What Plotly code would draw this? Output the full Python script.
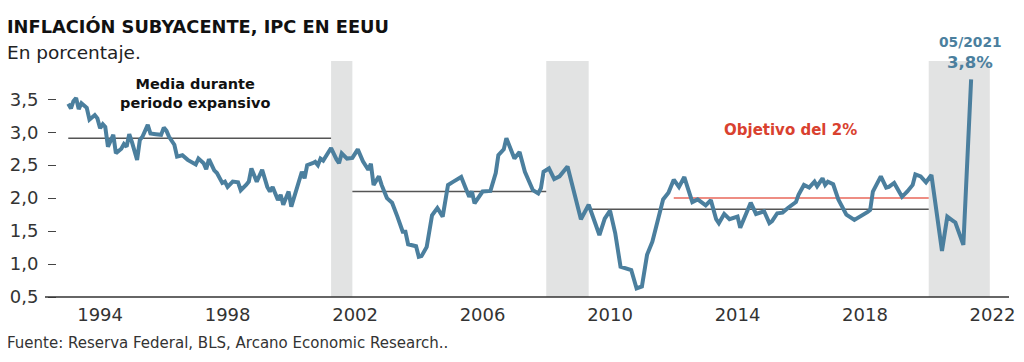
import plotly.graph_objects as go

# ---- data ----
months = ["1993-01","1993-02","1993-03","1993-04","1993-05","1993-06","1993-08","1993-09","1993-11","1993-12",
"1994-01","1994-02","1994-03","1994-04","1994-06","1994-07","1994-09","1994-10","1994-11","1994-12",
"1995-01","1995-03","1995-04","1995-05","1995-07","1995-08","1995-10","1995-12",
"1996-01","1996-02","1996-03","1996-05","1996-06","1996-08","1996-10",
"1997-01","1997-02","1997-04","1997-05","1997-06","1997-08","1997-09","1997-11","1997-12",
"1998-01","1998-03","1998-05","1998-06","1998-08","1998-09","1998-10","1998-12",
"1999-02","1999-04","1999-05","1999-06","1999-08","1999-09","1999-10","1999-11","1999-12",
"2000-01","2000-03","2000-05","2000-06","2000-07","2000-09","2000-10","2000-11","2000-12",
"2001-01","2001-02","2001-04","2001-06","2001-07","2001-08","2001-10","2001-12",
"2002-01","2002-02","2002-04","2002-06","2002-07","2002-08","2002-10","2002-11",
"2003-01","2003-03","2003-05","2003-07","2003-08","2003-09","2003-12",
"2004-01","2004-02","2004-04","2004-06","2004-08","2004-10","2004-12",
"2005-02","2005-05","2005-07","2005-08","2005-09","2005-10",
"2006-01","2006-04","2006-06","2006-07","2006-09","2006-10",
"2007-01","2007-03","2007-05","2007-07","2007-08","2007-10","2007-11","2007-12",
"2008-02","2008-04","2008-06","2008-09","2008-12",
"2009-02","2009-05","2009-07","2009-09","2009-11",
"2010-01","2010-03","2010-05","2010-09","2010-11",
"2011-01","2011-03","2011-05","2011-07","2011-09","2011-11",
"2012-01","2012-03","2012-05","2012-06","2012-08","2012-10",
"2013-01","2013-03","2013-04","2013-05","2013-06","2013-08","2013-10",
"2014-01","2014-02","2014-06","2014-08","2014-11",
"2015-01","2015-02","2015-04","2015-06","2015-08","2015-11","2015-12",
"2016-02","2016-04","2016-06","2016-07","2016-09","2016-10","2016-11",
"2017-01","2017-03","2017-06","2017-09",
"2018-02","2018-03","2018-04","2018-07","2018-09","2018-10","2018-12",
"2019-03","2019-05","2019-07","2019-08","2019-10","2019-12",
"2020-02","2020-06","2020-08","2020-10","2020-11",
"2021-02","2021-05"]

core_cpi = [3.43,3.36,3.47,3.52,3.35,3.44,3.37,3.19,3.26,3.21,
3.06,3.12,3.08,2.78,2.96,2.68,2.75,2.82,2.78,2.97,
2.85,2.58,2.88,2.93,3.11,2.98,2.97,2.96,
3.07,3.02,2.93,2.81,2.63,2.65,2.58,
2.51,2.60,2.53,2.44,2.59,2.42,2.38,2.23,2.25,
2.17,2.25,2.24,2.12,2.20,2.25,2.45,2.25,
2.43,2.17,2.10,2.17,1.97,2.05,1.90,2.00,2.10,
1.87,2.12,2.40,2.30,2.50,2.53,2.55,2.50,2.60,
2.57,2.63,2.76,2.59,2.53,2.68,2.60,2.61,
2.67,2.74,2.56,2.43,2.52,2.20,2.33,2.20,
2.00,1.93,1.72,1.49,1.49,1.30,1.27,
1.11,1.12,1.26,1.74,1.85,1.72,2.20,
2.25,2.32,2.12,2.02,2.10,1.92,
2.10,2.11,2.38,2.65,2.74,2.91,
2.60,2.70,2.40,2.21,2.12,2.07,2.15,2.40,
2.45,2.29,2.33,2.48,2.00,
1.68,1.90,1.69,1.44,1.69,
1.81,1.47,0.96,0.91,0.63,
0.66,1.14,1.34,1.67,1.98,2.08,
2.28,2.17,2.32,2.19,1.94,1.98,
1.89,1.97,1.82,1.68,1.62,1.76,1.68,
1.72,1.55,1.93,1.76,1.80,
1.62,1.65,1.77,1.78,1.85,1.94,2.05,
2.20,2.16,2.25,2.18,2.30,2.20,2.25,
2.21,1.98,1.75,1.67,
1.79,1.82,2.10,2.33,2.16,2.17,2.23,
2.02,2.10,2.20,2.36,2.33,2.24,
2.35,1.20,1.72,1.66,1.63,
1.29,3.80]

# expansion-period averages
mean_start = ["1993-01-01", "2001-12-01", "2009-06-01"]
mean_end = ["2001-04-01", "2008-01-01", "2020-01-01"]
mean_value = [2.91, 2.10, 1.83]

# 2% target
target_start = "2012-01-01"
target_end = "2020-01-01"
target_value = 2.0

# recessions (shaded)
rec_start = ["2001-04-01", "2008-01-01", "2020-01-01"]
rec_end = ["2001-12-01", "2009-05-01", "2021-12-01"]

y_ticks = [0.5, 1.0, 1.5, 2.0, 2.5, 3.0, 3.5]
y_tick_text = ["0,5", "1,0", "1,5", "2,0", "2,5", "3,0", "3,5"]
x_ticks = ["1994-01-01", "1998-01-01", "2002-01-01", "2006-01-01",
           "2010-01-01", "2014-01-01", "2018-01-01", "2022-01-01"]
x_tick_text = ["1994", "1998", "2002", "2006", "2010", "2014", "2018", "2022"]

# ---- figure ----
LINE = "#4b7f9e"
RED = "#d9412f"
FONT = "DejaVu Sans"

OFF = 8                      # page body margin
W, H = 1024 - OFF, 362 - OFF
L, R, T, B = 57 - OFF, 15, 61 - OFF, 362 - 297
PW, PH = W - L - R, H - T - B

def px(x):  # page pixel x -> paper
    return (x - OFF - L) / PW

def py(y):  # page pixel y -> paper
    return (H - B - (y - OFF)) / PH

fig = go.Figure()

for s, e in zip(rec_start, rec_end):
    fig.add_shape(type="rect", xref="x", yref="paper", x0=s, x1=e, y0=0, y1=1,
                  fillcolor="#e2e3e3", line_width=0, layer="below")

for s, e, v in zip(mean_start, mean_end, mean_value):
    fig.add_trace(go.Scatter(x=[s, e], y=[v, v], mode="lines",
                             line=dict(color="#555555", width=1.5),
                             hoverinfo="skip", showlegend=False))

fig.add_trace(go.Scatter(x=[target_start, target_end], y=[target_value, target_value],
                         mode="lines", line=dict(color="#e8675a", width=1.5),
                         hoverinfo="skip", showlegend=False))

fig.add_trace(go.Scatter(x=months, y=core_cpi, mode="lines",
                         line=dict(color=LINE, width=4, shape="linear"),
                         showlegend=False))

# bottom axis line, extended a little to the left
fig.add_shape(type="line", xref="paper", yref="paper", x0=px(45), x1=px(1009), y0=0, y1=0,
              line=dict(color="#333333", width=1.5))

ann = []
ann.append(dict(text="<b>INFLACIÓN SUBYACENTE, IPC EN EEUU</b>", x=px(5), y=py(27),
                xanchor="left", yanchor="middle", font=dict(size=17.8, color="#111111", family=FONT)))
ann.append(dict(text="En porcentaje.", x=px(5), y=py(52),
                xanchor="left", yanchor="middle", font=dict(size=18.5, color="#222222", family=FONT)))
ann.append(dict(text="<b>Media durante<br>periodo expansivo</b>", x=px(195), y=py(93),
                xanchor="center", yanchor="middle", align="center",
                font=dict(size=14.5, color="#111111", family=FONT)))
ann.append(dict(text="<b>Objetivo del 2%</b>", x=px(790), y=py(130),
                xanchor="center", yanchor="middle", font=dict(size=15, color=RED, family=FONT)))
ann.append(dict(text="<b>05/2021</b>", x=px(970), y=py(42),
                xanchor="center", yanchor="middle", font=dict(size=13.8, color=LINE, family=FONT)))
ann.append(dict(text="<b>3,8%</b>", x=px(970), y=py(62),
                xanchor="center", yanchor="middle", font=dict(size=16.5, color=LINE, family=FONT)))
ann.append(dict(text="Fuente: Reserva Federal, BLS, Arcano Economic Research..", x=px(5), y=py(343),
                xanchor="left", yanchor="middle", font=dict(size=15, color="#333333", family=FONT)))
for a in ann:
    a.update(xref="paper", yref="paper", showarrow=False)

fig.update_layout(
    width=W, height=H,
    margin=dict(l=L, r=R, t=T, b=B, autoexpand=False),
    paper_bgcolor="white", plot_bgcolor="white",
    font=dict(family=FONT, color="#333333"),
    annotations=ann,
    showlegend=False,
    xaxis=dict(type="date", range=["1992-08-25", "2022-07-09"], automargin=False,
               tickvals=x_ticks, ticktext=x_tick_text, showgrid=False, zeroline=False,
               showline=False, ticks="", ticklabelstandoff=5,
               tickfont=dict(size=18, color="#333333", family=FONT)),
    yaxis=dict(range=[0.5, 4.08], tickvals=y_ticks, ticktext=y_tick_text, automargin=False,
               showgrid=False, zeroline=False, showline=False,
               ticks="outside", ticklen=8, tickwidth=1, tickcolor="#444444",
               ticklabelstandoff=6,
               tickfont=dict(size=18, color="#333333", family=FONT)),
)

fig.write_html("out.html")
